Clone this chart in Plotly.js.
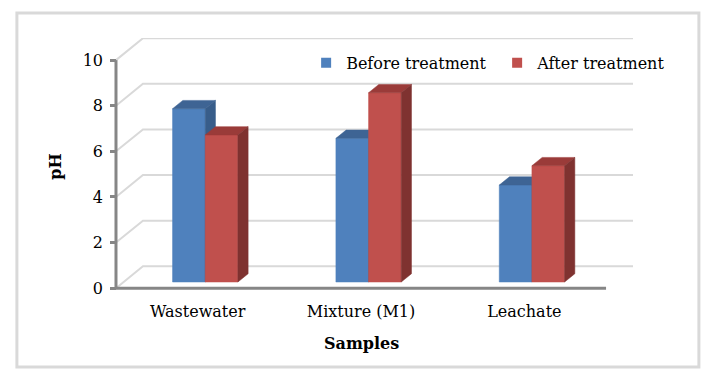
<!DOCTYPE html>
<html><head><meta charset="utf-8">
<script src="https://cdn.plot.ly/plotly-3.0.1.min.js"></script>
<style>html,body{margin:0;padding:0;background:#fff}#chart{width:713px;height:373px}</style>
</head><body><div id="chart"></div>
<script>
// ---- data ----
const categories = ['Wastewater', 'Mixture (M1)', 'Leachate'];
const seriesNames = ['Before treatment', 'After treatment'];
const beforeTreatment = [7.6, 6.3, 4.25];
const afterTreatment = [6.45, 8.3, 5.1];
const yTicks = [0, 2, 4, 6, 8, 10];

// ---- style ----
const frontColors = ['#4f81bd', '#c0504d'];
const topColors = ['#3e6494', '#9a3b39'];
const sideColors = ['#385d8a', '#7f3230'];
const DX = 0.165, DY = 0.96;   // depth of the 3-D box in axis units
const F0 = 0.28, F1 = 0.66;    // bar depth position (fraction of box depth)
const BW = 0.2;                // bar width in category units
const FONT = 'DejaVu Serif, serif';
const FS = 16;
const series = [beforeTreatment, afterTreatment];
const nCat = categories.length;
const yMax = yTicks[yTicks.length - 1];

const traces = [];
// back-wall gridlines with floor diagonals
yTicks.forEach(v => traces.push({
  type: 'scatter', mode: 'lines',
  x: [0, DX, nCat + DX], y: [v, v + DY, v + DY],
  line: {color: '#d9d9d9', width: 2}, hoverinfo: 'skip', showlegend: false
}));
// axis lines
traces.push({type: 'scatter', mode: 'lines', x: [0, 0], y: [0, yMax],
  line: {color: '#868686', width: 3}, hoverinfo: 'skip', showlegend: false});
traces.push({type: 'scatter', mode: 'lines', x: [0, nCat], y: [0, 0],
  line: {color: '#868686', width: 3}, hoverinfo: 'skip', showlegend: false});

function poly(xs, ys, color) {
  return {type: 'scatter', mode: 'lines', x: xs.concat([xs[0]]), y: ys.concat([ys[0]]),
    fill: 'toself', fillcolor: color, line: {width: 0.5, color: color},
    hoverinfo: 'skip', showlegend: false};
}
for (let i = 0; i < nCat; i++) {
  for (let s = 0; s < series.length; s++) {
    const v = series[s][i];
    const x0 = i + 0.5 - BW + s * BW, x1 = x0 + BW;
    const ax = F0 * DX, bx = F1 * DX, ay = F0 * DY, by = F1 * DY;
    traces.push(poly([x0 + ax, x1 + ax, x1 + ax, x0 + ax], [ay, ay, v + ay, v + ay], frontColors[s]));
    traces.push(poly([x0 + ax, x1 + ax, x1 + bx, x0 + bx], [v + ay, v + ay, v + by, v + by], topColors[s]));
    traces.push(poly([x1 + ax, x1 + bx, x1 + bx, x1 + ax], [ay, by, v + by, v + ay], sideColors[s]));
  }
}
// legend entries
seriesNames.forEach((n, s) => traces.push({
  type: 'scatter', mode: 'markers', x: [null], y: [null], name: n,
  marker: {symbol: 'square', size: 10, color: frontColors[s]}, hoverinfo: 'skip'
}));

const layout = {
  width: 713, height: 373,
  margin: {l: 110, r: 80, t: 38, b: 78},
  paper_bgcolor: '#fff', plot_bgcolor: 'rgba(0,0,0,0)',
  font: {family: FONT, size: FS, color: '#000'},
  showlegend: true,
  legend: {orientation: 'h', x: 0.375, y: 0.903, xanchor: 'left', yanchor: 'middle',
    entrywidth: 146, entrywidthmode: 'pixels',
    bgcolor: 'rgba(0,0,0,0)', font: {family: FONT, size: FS, color: '#000'}},
  xaxis: {range: [-0.0367, 3.165], tickvals: [0.5, 1.5, 2.5], ticktext: categories,
    showgrid: false, zeroline: false, showline: false, ticks: '',
    tickfont: {family: FONT, size: FS, color: '#000'}, ticklabelstandoff: 5, fixedrange: true},
  yaxis: {range: [-0.3, 10.97], tickvals: yTicks, ticks: 'inside', ticklen: 6, tickwidth: 3,
    tickcolor: '#868686', showgrid: false, zeroline: false, showline: false,
    tickfont: {family: FONT, size: FS, color: '#000'}, ticklabelstandoff: 6,
    title: {text: '<b>pH</b>', font: {family: FONT, size: FS, color: '#000'}, standoff: 17},
    fixedrange: true},
  annotations: [{text: '<b>Samples</b>', x: 1.5, xref: 'x', y: -0.187, yref: 'paper',
    xanchor: 'center', yanchor: 'middle', showarrow: false,
    font: {family: FONT, size: FS, color: '#000'}}],
  shapes: [{type: 'rect', xref: 'paper', yref: 'paper', x0: -0.178, x1: 1.126, y0: -0.280, y1: 1.097,
    line: {color: '#d9d9d9', width: 3}, fillcolor: 'rgba(0,0,0,0)', layer: 'below'}]
};
Plotly.newPlot('chart', traces, layout, {displayModeBar: false, staticPlot: true});
</script></body></html>
